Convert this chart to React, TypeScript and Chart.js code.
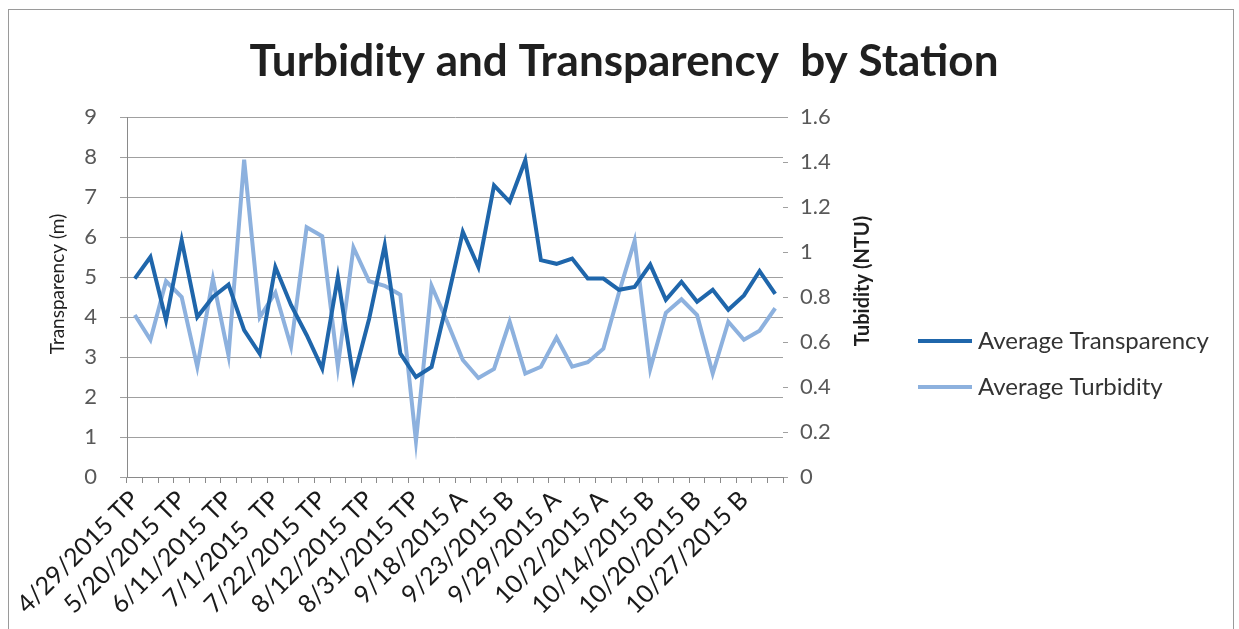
import React, { useEffect, useRef } from "react";
import { Chart, registerables } from "chart.js";

Chart.register(...registerables);

const TITLE = "Turbidity and Transparency  by Station";
const LEFT_TITLE = "Transparency (m)";
const RIGHT_TITLE = "Tubidity (NTU)";

const categories = [
  "4/29/2015 TP", "5/6/2015 TP", "5/13/2015 TP", "5/20/2015 TP", "5/27/2015 TP", "6/3/2015 TP",
  "6/11/2015 TP", "6/17/2015 TP", "6/24/2015 TP", "7/1/2015  TP", "7/8/2015 TP", "7/15/2015 TP",
  "7/22/2015 TP", "7/29/2015 TP", "8/5/2015 TP", "8/12/2015 TP", "8/19/2015 TP", "8/25/2015 TP",
  "8/31/2015 TP", "9/9/2015 TP", "9/15/2015 TP", "9/18/2015 A", "9/18/2015 B", "9/23/2015 A",
  "9/23/2015 B", "9/25/2015 A", "9/25/2015 B", "9/29/2015 A", "9/29/2015 B", "9/30/2015 A",
  "10/2/2015 A", "10/2/2015 B", "10/14/2015 A", "10/14/2015 B", "10/16/2015 A", "10/20/2015 A",
  "10/20/2015 B", "10/22/2015 A", "10/27/2015 A", "10/27/2015 B", "10/29/2015 A", "10/29/2015 B",
];

const transparency = [
  4.96, 5.5, 3.92, 5.92, 4.0, 4.5, 4.81, 3.67, 3.08, 5.25, 4.3, 3.55,
  2.71, 5.0, 2.46, 3.95, 5.79, 3.09, 2.5, 2.75, 4.4, 6.13, 5.25, 7.29,
  6.88, 7.92, 5.42, 5.33, 5.46, 4.96, 4.96, 4.68, 4.75, 5.31, 4.43, 4.88,
  4.38, 4.68, 4.18, 4.54, 5.15, 4.58,
];

const turbidity = [
  0.72, 0.61, 0.87, 0.8, 0.49, 0.88, 0.54, 1.41, 0.71, 0.82, 0.58, 1.11,
  1.07, 0.49, 1.02, 0.87, 0.85, 0.81, 0.16, 0.85, 0.69, 0.52, 0.44, 0.48,
  0.69, 0.46, 0.49, 0.62, 0.49, 0.51, 0.57, 0.82, 1.05, 0.48, 0.73, 0.79,
  0.72, 0.46, 0.69, 0.61, 0.65, 0.75,
];

const seriesNames = ["Average Transparency", "Average Turbidity"];
const seriesColors = ["#1f66ab", "#8db1de"];

const LABEL_EVERY = 3;

export default function App() {
  const ref = useRef<HTMLCanvasElement | null>(null);

  useEffect(() => {
    document.body.style.margin = "0";
    const canvas = ref.current;
    if (!canvas) return;
    Chart.defaults.font.family = "Lato";

    const decor = {
      id: "decor",
      beforeDraw(chart: any) {
        const { ctx, width, height } = chart;
        ctx.save();
        ctx.fillStyle = "#ffffff";
        ctx.fillRect(0, 0, width, height);
        ctx.strokeStyle = "#9a9a9a";
        ctx.lineWidth = 1;
        ctx.strokeRect(8.5, 9.5, 1225, 700);
        ctx.restore();
      },
      afterDraw(chart: any) {
        const { ctx } = chart;
        ctx.save();
        // main title
        ctx.fillStyle = "#1f1f1f";
        ctx.font = "bold 44px Lato";
        ctx.textAlign = "center";
        ctx.textBaseline = "middle";
        ctx.fillText(TITLE, 624, 62);
        // axis titles
        ctx.font = "19px Lato";
        ctx.fillStyle = "#1f1f1f";
        ctx.save();
        ctx.translate(58, 284);
        ctx.rotate(-Math.PI / 2);
        ctx.fillText(LEFT_TITLE, 0, 0);
        ctx.restore();
        ctx.font = "bold 20px Lato";
        ctx.save();
        ctx.translate(863, 281);
        ctx.rotate(-Math.PI / 2);
        ctx.fillText(RIGHT_TITLE, 0, 0);
        ctx.restore();
        // legend
        const items = chart.data.datasets;
        items.forEach((ds: any, i: number) => {
          const y = 341 + i * 46;
          ctx.strokeStyle = ds.borderColor;
          ctx.lineWidth = 4;
          ctx.beginPath();
          ctx.moveTo(918, y);
          ctx.lineTo(972, y);
          ctx.stroke();
          ctx.fillStyle = "#333333";
          ctx.font = "24px Lato";
          ctx.textAlign = "left";
          ctx.textBaseline = "middle";
          ctx.fillText(ds.label, 978, y);
        });
        ctx.restore();
      },
    };

    const chart = new Chart(canvas, {
      type: "line",
      data: {
        labels: categories,
        datasets: [
          {
            label: seriesNames[0],
            data: transparency,
            borderColor: seriesColors[0],
            backgroundColor: seriesColors[0],
            borderWidth: 4,
            pointRadius: 0,
            tension: 0,
            yAxisID: "y",
          },
          {
            label: seriesNames[1],
            data: turbidity,
            borderColor: seriesColors[1],
            backgroundColor: seriesColors[1],
            borderWidth: 4,
            pointRadius: 0,
            tension: 0,
            yAxisID: "y1",
          },
        ],
      },
      options: {
        responsive: false,
        animation: false,
        layout: { padding: { top: 117, right: 356, bottom: 0, left: 0 } },
        plugins: {
          legend: { display: false },
          title: { display: false },
          tooltip: { enabled: false },
        },
        scales: {
          x: {
            offset: true,
            grid: {
              offset: true,
              drawOnChartArea: false,
              drawTicks: true,
              tickLength: 6,
              color: "#8a8a8a",
            },
            border: { display: true, color: "#8a8a8a" },
            ticks: {
              autoSkip: false,
              minRotation: 45,
              maxRotation: 45,
              padding: 2,
              color: "#1a1a1a",
              font: { size: 25, family: "Lato" },
              callback: (_v: any, idx: number) =>
                idx % LABEL_EVERY === 0 ? categories[idx] : "",
            },
            afterFit: (s: any) => {
              s.height = 152;
            },
          },
          y: {
            position: "left",
            min: 0,
            max: 9,
            ticks: {
              stepSize: 1,
              padding: 23,
              color: "#595959",
              font: { size: 22, family: "Lato" },
            },
            grid: { color: "#a0a0a0", tickLength: 7, lineWidth: 1 },
            border: { display: true, color: "#8a8a8a" },
            afterFit: (s: any) => {
              s.width = 127;
            },
          },
          y1: {
            position: "right",
            min: 0,
            max: 1.6,
            ticks: {
              stepSize: 0.2,
              padding: 12,
              color: "#595959",
              font: { size: 22, family: "Lato" },
              callback: (v: any) => String(Math.round(Number(v) * 10) / 10),
            },
            grid: { drawOnChartArea: false, tickLength: 5, color: "#a0a0a0" },
            border: { display: false },
            afterFit: (s: any) => {
              s.width = 100;
            },
          },
        },
      },
      plugins: [decor],
    });

    return () => chart.destroy();
  }, []);

  return (
    <div style={{ width: 1239, height: 629 }}>
      <canvas ref={ref} width={1239} height={629} style={{ display: "block" }} />
    </div>
  );
}
